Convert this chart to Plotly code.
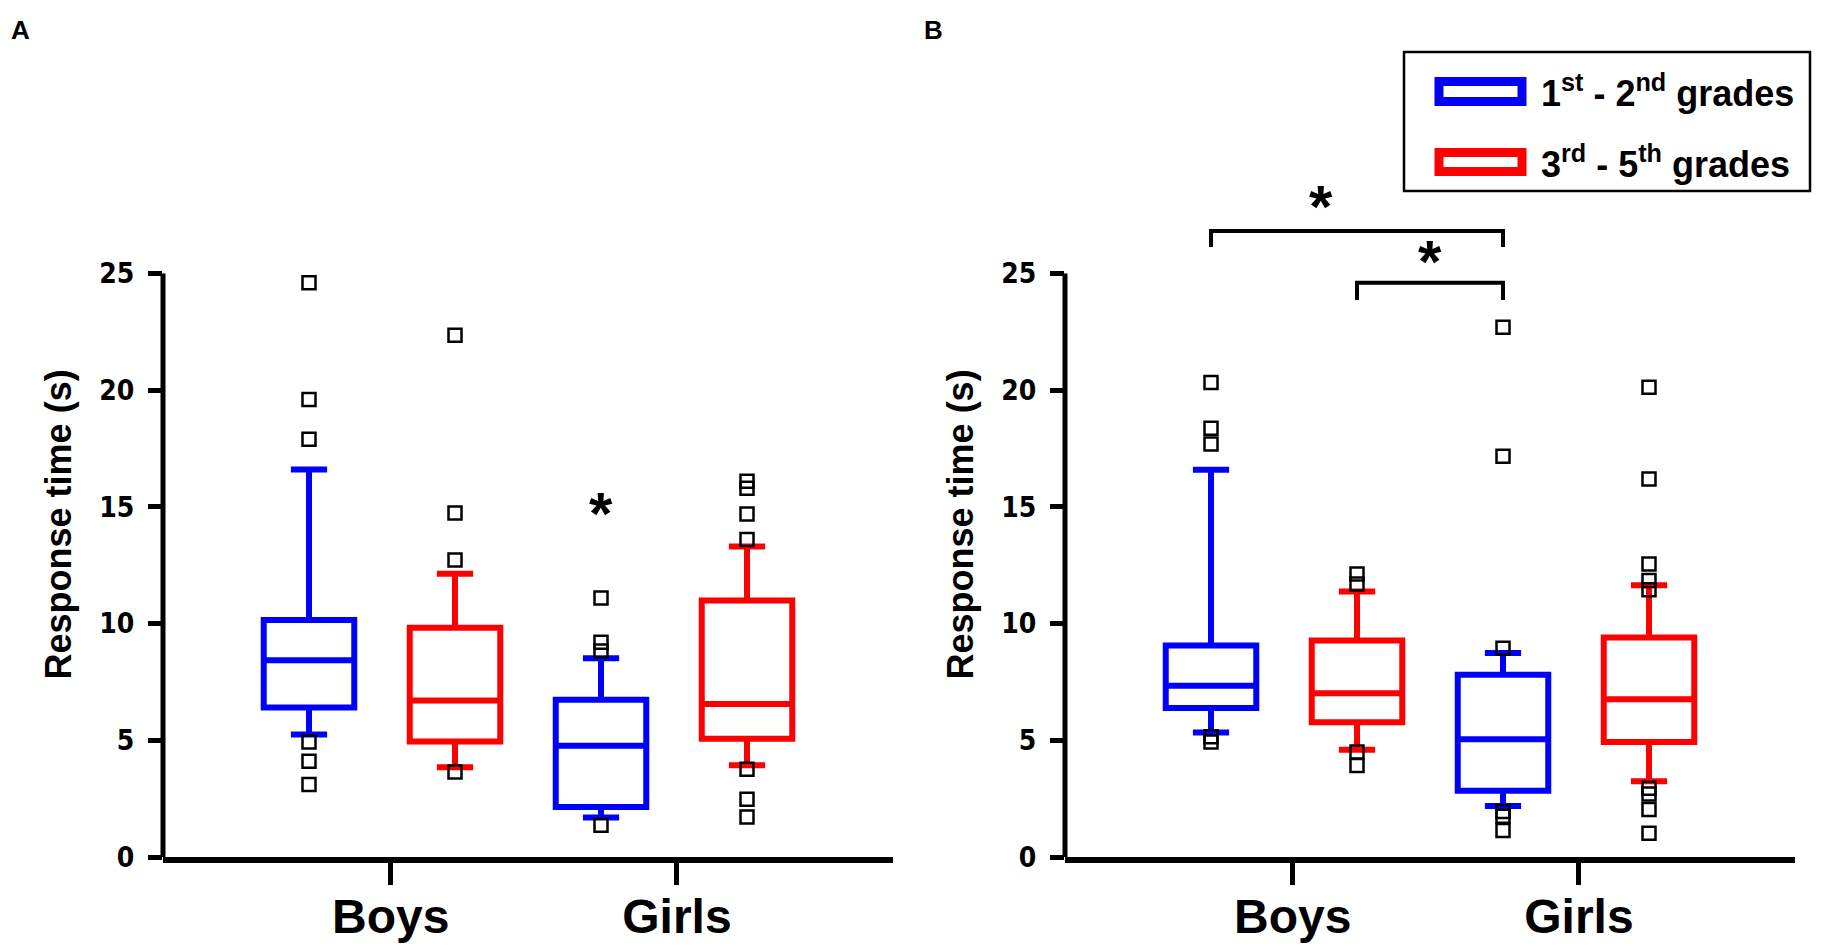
import plotly.graph_objects as go

W, H = 1833, 946

# box order: boys 1st-2nd, boys 3rd-5th, girls 1st-2nd, girls 3rd-5th
positions = [0, 1, 2, 3]
box_colors = ["#0000ff", "#ff0000", "#0000ff", "#ff0000"]
x_tickvals = [0.56, 2.52]
x_ticktext = ["Boys", "Girls"]
y_tickvals = [0, 5, 10, 15, 20, 25]

# panel A
a_low = [5.25, 3.84, 1.69, 3.93]
a_q1 = [6.41, 4.95, 2.14, 5.07]
a_med = [8.43, 6.71, 4.77, 6.55]
a_q3 = [10.15, 9.82, 6.74, 10.99]
a_high = [16.6, 12.14, 8.52, 13.3]
a_out = [[24.6, 19.6, 17.9, 4.93, 4.1, 3.11],
         [22.35, 14.74, 12.72, 3.64],
         [11.1, 9.2, 8.83, 1.36],
         [16.1, 15.8, 14.7, 13.6, 3.76, 2.47, 1.71]]

# panel B
b_low = [5.33, 4.6, 2.19, 3.25]
b_q1 = [6.38, 5.77, 2.84, 4.93]
b_med = [7.34, 7.02, 5.04, 6.76]
b_q3 = [9.06, 9.28, 7.81, 9.4]
b_high = [16.59, 11.38, 8.74, 11.64]
b_out = [[20.33, 18.37, 17.7, 5.15, 4.93],
         [12.13, 11.7, 4.5, 3.92],
         [22.7, 17.17, 8.94, 1.95, 1.75, 1.14],
         [20.13, 16.2, 12.55, 11.85, 11.45, 2.95, 2.7, 2.03, 1.02]]

# significance marks: (x, y) in data units
a_stars = [(2, 14.7)]
b_stars = [(0.75, 27.85), (1.5, 25.52)]
# brackets in B: (x from, x to, top y, end y)
b_brackets = [(0, 2, 26.82, 26.14), (1, 2, 24.6, 23.86)]

legend_labels = ["<b>1<sup>st</sup> - 2<sup>nd</sup> grades</b>",
                 "<b>3<sup>rd</sup> - 5<sup>th</sup> grades</b>"]
legend_colors = ["#0000ff", "#ff0000"]


def px(x):
    return x / W


def py(y):
    return 1 - y / H


fig = go.Figure()

panels = [("x", "y", a_low, a_q1, a_med, a_q3, a_high, a_out),
          ("x2", "y2", b_low, b_q1, b_med, b_q3, b_high, b_out)]
for xa, ya, lo, q1, med, q3, hi, out in panels:
    for i in range(len(positions)):
        fig.add_trace(go.Box(x=[positions[i]], q1=[q1[i]], median=[med[i]], q3=[q3[i]],
                             lowerfence=[lo[i]], upperfence=[hi[i]],
                             width=0.62, whiskerwidth=0.4, boxpoints=False,
                             line=dict(color=box_colors[i], width=6),
                             fillcolor="rgba(255,255,255,0)",
                             xaxis=xa, yaxis=ya, showlegend=False, hoverinfo="skip"))
        fig.add_trace(go.Scatter(x=[positions[i]] * len(out[i]), y=out[i], mode="markers",
                                 marker=dict(symbol="square-open", size=13, color="black",
                                             line=dict(width=2.5, color="black")),
                                 xaxis=xa, yaxis=ya, showlegend=False, hoverinfo="skip"))

ytick_font = dict(family="Liberation Sans Narrow, DejaVu Sans Condensed, sans-serif",
                  size=28, color="black", weight="bold")
xtick_font = dict(family="Liberation Sans, Arial, sans-serif", size=48, color="black", weight="bold")
ytitle_font = dict(family="Liberation Sans, Arial, sans-serif", size=36, color="black", weight="bold")

xcommon = dict(range=[-1, 4], showline=True, linewidth=6, linecolor="black",
               tickvals=x_tickvals, ticktext=x_ticktext, ticks="outside", ticklen=22,
               tickwidth=5, tickcolor="black", tickfont=xtick_font, ticklabelstandoff=-10,
               showgrid=False, zeroline=False, automargin=False, fixedrange=True)
ycommon = dict(range=[0, 28.5], domain=[py(849), py(183.8)], showline=False,
               tickvals=y_tickvals, ticks="outside", ticklen=14, tickwidth=5,
               tickcolor="black", tickfont=ytick_font, ticklabelstandoff=8,
               showgrid=False, zeroline=False, automargin=False,
               title=dict(text="Response time (s)", font=ytitle_font, standoff=16))

fig.update_layout(
    width=W, height=H, autosize=False,
    margin=dict(l=0, r=0, t=0, b=0),
    plot_bgcolor="white", paper_bgcolor="white",
    font=dict(family="Liberation Sans, Arial, sans-serif", color="black"),
    showlegend=False,
    xaxis=dict(domain=[px(155), px(885)], anchor="y", **xcommon),
    yaxis=dict(anchor="x", **ycommon),
    xaxis2=dict(domain=[px(1057), px(1787)], anchor="y2", **xcommon),
    yaxis2=dict(anchor="x2", **ycommon),
)

# y axis lines only reach 25
for xd, ya in [("x domain", "y"), ("x2 domain", "y2")]:
    fig.add_shape(type="line", xref=xd, yref=ya, x0=0, x1=0, y0=0, y1=25,
                  line=dict(color="black", width=5))

# brackets
for x0, x1, ytop, yend in b_brackets:
    fig.add_shape(type="path", xref="x2", yref="y2",
                  path=f"M {x0},{yend} L {x0},{ytop} L {x1},{ytop} L {x1},{yend}",
                  line=dict(color="black", width=4))

for xa, ya, stars in [("x", "y", a_stars), ("x2", "y2", b_stars)]:
    for sx, sy in stars:
        fig.add_annotation(x=sx, y=sy, xref=xa, yref=ya, text="<b>*</b>", showarrow=False,
                           yanchor="middle", yshift=0,
                           font=dict(size=60, color="black", family="Liberation Sans, Arial"))

# panel letters
fig.add_annotation(x=px(12), y=py(22), xref="paper", yref="paper", text="<b>A</b>",
                   showarrow=False, xanchor="center", yanchor="middle", font=dict(size=26))
fig.add_annotation(x=px(925), y=py(22), xref="paper", yref="paper", text="<b>B</b>",
                   showarrow=False, xanchor="center", yanchor="middle", font=dict(size=26))

# legend box drawn by hand
fig.add_shape(type="rect", xref="paper", yref="paper", x0=px(1396), x1=px(1802),
              y0=py(183), y1=py(44), line=dict(color="black", width=2.5))
leg_rows = [(73.5, 93.5, 83), (144.5, 163.5, 154)]
for (top, bot, mid), lab, col in zip(leg_rows, legend_labels, legend_colors):
    fig.add_shape(type="rect", xref="paper", yref="paper", x0=px(1431), x1=px(1514),
                  y0=py(bot), y1=py(top), line=dict(color=col, width=9), fillcolor="white")
    fig.add_annotation(x=px(1531), y=py(mid), xref="paper", yref="paper", text=lab,
                       showarrow=False, xanchor="left", yanchor="middle",
                       font=dict(size=36, color="black"))

fig.write_html("out.html")
